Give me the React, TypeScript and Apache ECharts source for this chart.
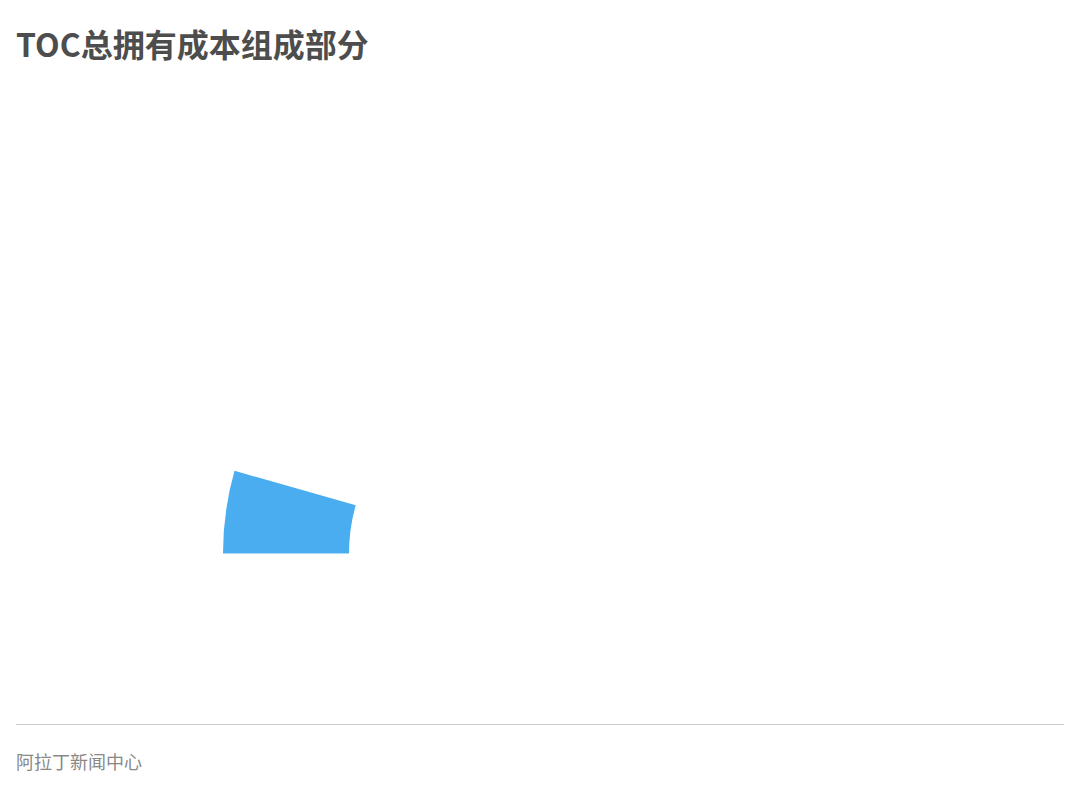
import React, { useEffect, useRef } from "react";
import * as echarts from "echarts";

const titleText = "TOC总拥有成本组成部分";
const footerText = "阿拉丁新闻中心";
const sliceNames = ["组成部分", "其余"];
const sliceValues = [4.4, 95.6];
const sliceColors = ["#4aadf0", "rgba(0,0,0,0)"];

export default function App() {
  const ref = useRef<HTMLDivElement>(null);
  useEffect(() => {
    if (!ref.current) return;
    const chart = echarts.init(ref.current, null, { renderer: "svg" });
    chart.setOption({
      animation: false,
      backgroundColor: "#ffffff",
      title: {
        text: titleText,
        left: 16,
        top: 27,
        padding: 0,
        textStyle: {
          fontSize: 32,
          fontWeight: "bold",
          color: "#4d4d4d",
          fontFamily: "Noto Sans CJK SC",
        },
      },
      series: [
        {
          type: "pie",
          center: [526, 553.5],
          radius: [177, 303],
          startAngle: 180,
          clockwise: true,
          avoidLabelOverlap: false,
          silent: true,
          label: { show: false },
          labelLine: { show: false },
          emphasis: { disabled: true },
          data: sliceNames.map((n, i) => ({
            name: n,
            value: sliceValues[i],
            itemStyle: { color: sliceColors[i] },
          })),
        },
      ],
      graphic: [
        {
          type: "line",
          shape: { x1: 16, y1: 724.5, x2: 1064, y2: 724.5 },
          style: { stroke: "#cccccc", lineWidth: 1 },
        },
        {
          type: "text",
          x: 16,
          y: 761,
          style: {
            text: footerText,
            fontSize: 18,
            fill: "#888888",
            fontFamily: "Noto Sans CJK SC",
            verticalAlign: "middle",
          },
        },
      ],
    });
    return () => chart.dispose();
  }, []);
  return (
    <div
      ref={ref}
      style={{ position: "fixed", left: 0, top: 0, width: 1080, height: 800 }}
    />
  );
}
